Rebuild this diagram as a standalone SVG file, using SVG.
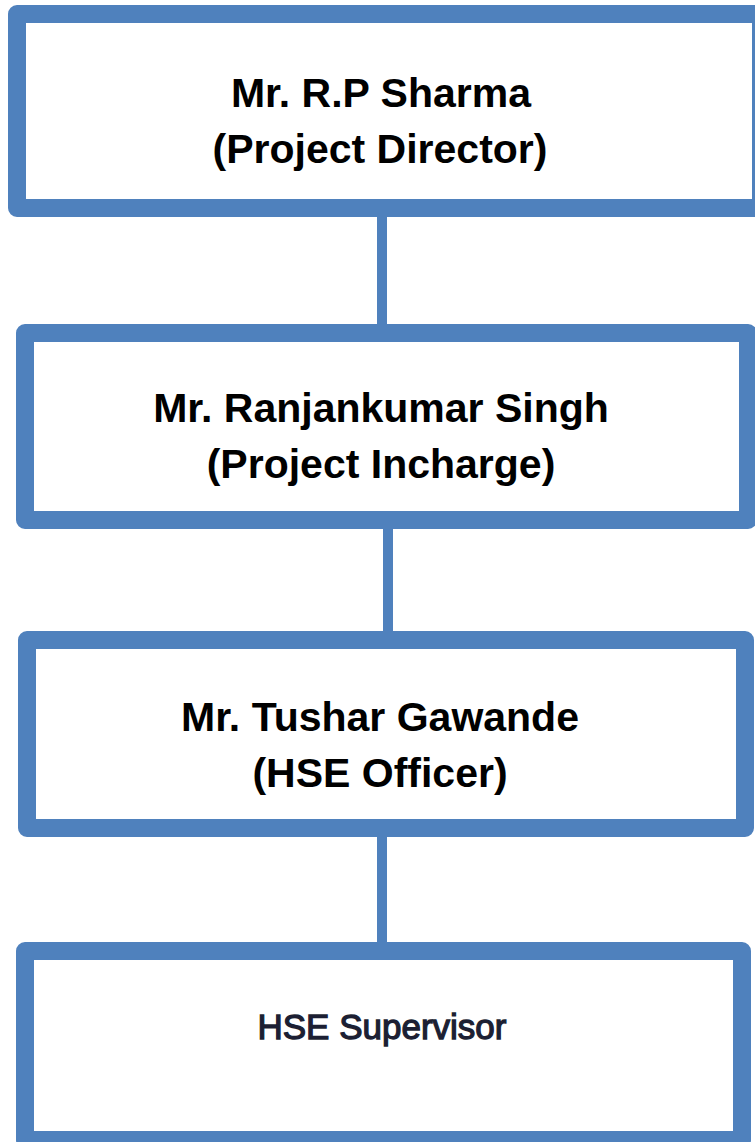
<svg xmlns="http://www.w3.org/2000/svg" width="755" height="1142" viewBox="0 0 755 1142">
  <style>
    .box { fill: #ffffff; stroke: #4f81bd; stroke-width: 18; stroke-linejoin: round; }
    .conn { stroke: #4f81bd; stroke-width: 10; fill: none; }
    .t { font-family: "Liberation Sans", Arial, sans-serif; font-weight: bold; font-size: 41px; fill: #000000; text-anchor: middle; }
    .s { font-family: "Liberation Sans", Arial, sans-serif; font-size: 35px; fill: #1c1f33; stroke: #1c1f33; stroke-width: 1.3; text-anchor: middle; }
  </style>
  <rect width="755" height="1142" fill="#ffffff"/>
  <g id="connectors">
    <line class="conn" x1="382" y1="215" x2="382" y2="325"/>
    <line class="conn" x1="388" y1="527" x2="388" y2="633"/>
    <line class="conn" x1="382" y1="836" x2="382" y2="944"/>
  </g>
  <g id="node-sharma">
    <rect class="box" x="17" y="14" width="744" height="194"/>
    <text class="t" x="381" y="107">Mr. R.P Sharma</text>
    <text class="t" x="380" y="163">(Project Director)</text>
  </g>
  <g id="node-singh">
    <rect class="box" x="25" y="333" width="723" height="187"/>
    <text class="t" x="381" y="422">Mr. Ranjankumar Singh</text>
    <text class="t" x="381" y="478">(Project Incharge)</text>
  </g>
  <g id="node-gawande">
    <rect class="box" x="27" y="640" width="718" height="188"/>
    <text class="t" x="380" y="731">Mr. Tushar Gawande</text>
    <text class="t" x="380" y="787">(HSE Officer)</text>
  </g>
  <g id="node-supervisor">
    <rect class="box" x="25" y="951" width="717" height="189"/>
    <text class="s" x="382" y="1039">HSE Supervisor</text>
  </g>
</svg>
